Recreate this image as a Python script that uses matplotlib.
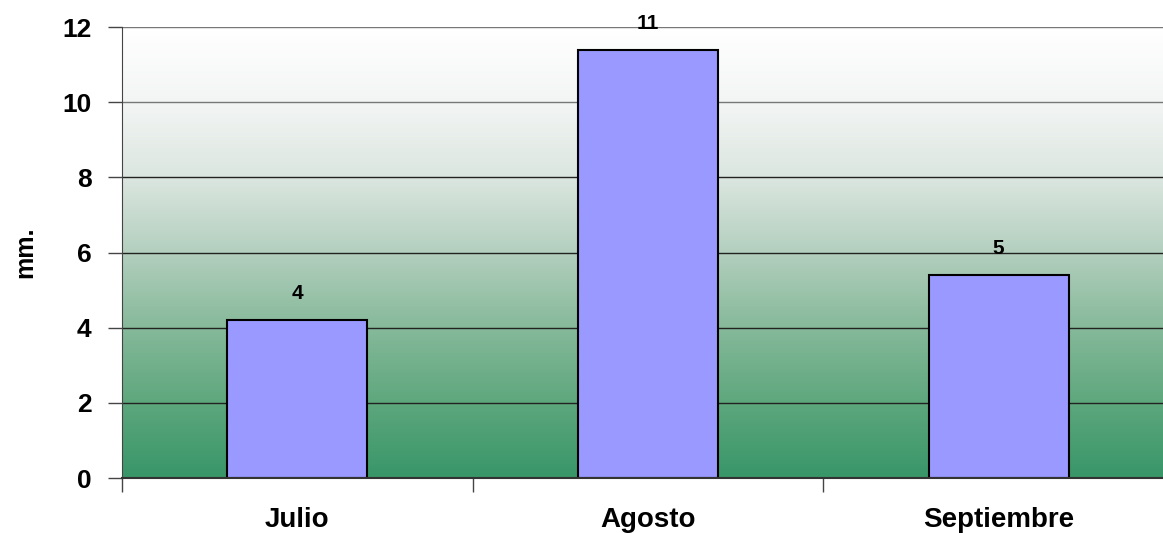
import numpy as np
import matplotlib
matplotlib.use("Agg")
import matplotlib.pyplot as plt
from matplotlib.colors import LinearSegmentedColormap

# Monthly rainfall (mm)
months = ["Julio", "Agosto", "Septiembre"]
rainfall = [4.2, 11.4, 5.4]
y_ticks = [0, 2, 4, 6, 8, 10, 12]

plt.rcParams["font.family"] = ["Liberation Sans", "DejaVu Sans"]
plt.rcParams["font.weight"] = "bold"

fig = plt.figure(figsize=(11.63, 5.33), dpi=100)
ax = fig.add_axes([122 / 1163, 1 - 478 / 533, (1174 - 122) / 1163, (478 - 27) / 533])

x = np.arange(len(months))
ax.set_xlim(-0.5, len(months) - 0.5)
ax.set_ylim(0, 12)

# vertical green-to-white background gradient
cmap = LinearSegmentedColormap.from_list(
    "bg",
    [(0.0, "#389668"), (2 / 12, "#5ea77d"), (4 / 12, "#86b99a"),
     (6 / 12, "#b3cfbe"), (8 / 12, "#dbe6e0"), (10 / 12, "#f3f5f4"),
     (1.0, "#ffffff")])
grad = np.linspace(0, 1, 256).reshape(-1, 1)
ax.imshow(grad, cmap=cmap, aspect="auto", origin="lower",
          extent=[-0.5, len(months) - 0.5, 0, 12], zorder=0)

for t in y_ticks[1:]:
    ax.axhline(t, color="#222222" if t < 10 else "#777777", lw=1, zorder=1)

bars = ax.bar(x, rainfall, width=0.4, color="#9999ff", edgecolor="black",
              linewidth=1.5, zorder=2)
for xi, v in zip(x, rainfall):
    ax.text(xi, v + 0.45, f"{v:.0f}", ha="center", va="bottom",
            fontsize=15, fontweight="bold", zorder=3)

ax.set_yticks(y_ticks)
ax.set_yticklabels([str(t) for t in y_ticks], fontsize=19, fontweight="bold")
ax.set_xticks(x)
ax.set_xticklabels(months, fontsize=20, fontweight="bold")
ax.tick_params(axis="x", length=0, pad=21)
ax.tick_params(axis="y", length=10, width=1, color="#444444", pad=12)
# category boundary ticks along the x axis
ax.set_xticks(np.arange(-0.5, len(months)), minor=True)
ax.tick_params(axis="x", which="minor", length=10, width=1, color="#444444")

for side in ["top", "right"]:
    ax.spines[side].set_visible(False)
ax.spines["left"].set_color("#444444")
ax.spines["bottom"].set_color("#333333")
ax.spines["bottom"].set_linewidth(1.5)

ax.set_ylabel("mm.", fontsize=18, fontweight="bold", labelpad=18)

fig.savefig("out.png", dpi=100)
